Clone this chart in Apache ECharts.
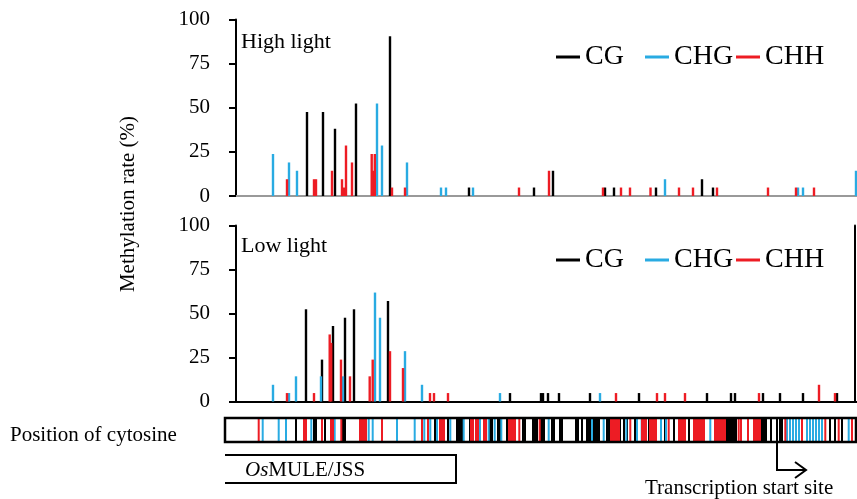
<!DOCTYPE html>
<html><head><meta charset="utf-8">
<script src="https://cdn.jsdelivr.net/npm/echarts@6/dist/echarts.min.js"></script>
<style>html,body{margin:0;padding:0;background:#fff}#c{width:857px;height:499px}</style>
</head><body><div id="c"></div>
<script>
// ---- data (position units along the sequence, methylation rate in %) ----
const contexts = ['CG', 'CHG', 'CHH'];
const yTicks = [0, 25, 50, 75, 100];

const highCG  = [[82,47.6],[98,47.6],[110,38.1],[131,52.4],[165,90.5],[244,4.8],[309,4.8],[328,14.3],[380,4.8],[389,4.8],[431,4.8],[477,9.5],[488,4.8]];
const highCHG = [[48,23.8],[64,19.0],[72,14.3],[152,52.4],[157,28.6],[182,19.0],[216,4.8],[221,4.8],[248,4.8],[440,9.5],[573,4.8],[578,4.8],[631,14.3]];
const highCHH = [[62,9.5],[89,9.5],[91,9.5],[107,14.3],[117,9.5],[119,4.8],[121,28.6],[127,19.0],[146.7,23.8],[148.3,14.3],[149.8,23.8],[167,4.8],[180,4.8],[294,4.8],[324,14.3],[378,4.8],[396,4.8],[405,4.8],[425.5,4.8],[454,4.8],[468,4.8],[492,4.8],[543,4.8],[571,4.8],[589,4.8]];

const lowCG  = [[81,52.4],[97,23.8],[108,42.9],[120,47.6],[129,52.4],[163,57.1],[285,4.8],[316,4.8],[318,4.8],[323,4.8],[334,4.8],[365,4.8],[414,4.8],[482,4.8],[506,4.8],[510,4.8],[538,4.8],[555,4.8],[578,4.8],[612,4.8]];
const lowCHG = [[48,9.5],[64,4.8],[71,14.3],[96,14.3],[118,14.3],[150,61.9],[155,47.6],[180,28.6],[197,9.5],[275,4.8],[375,4.8]];
const lowCHH = [[62,4.8],[89,4.8],[104.7,38.1],[106.2,33.3],[116,23.8],[125,14.3],[144.7,14.3],[147.7,23.8],[165,28.6],[178,19.0],[205,4.8],[209,4.8],[223,4.8],[391,4.8],[432,4.8],[440,4.8],[460,4.8],[534,4.8],[594,9.5],[610,4.8]];

// all cytosine positions in the region
const siteCG  = [71,89,91,100,118,120,210,223,232,234,236,238,245,253,265,267,273,275,282,298,300,308,310,312,315,317,319,327,329,335,337,351,353,357,362,364,366,368,370,372,374,382,384,395,399,402,410,419,421,424,440,449,464,501,503,505,507,509,511,537,539,541,546,552,555,557,605,610,617];
const siteCHG = [37.7,53.7,61,86.3,109.7,143.7,147.7,172,189.7,199.3,205.3,212,225.3,238.7,255,263.7,269.7,276.3,323.7,367,378.7,401.3,412,416.7,436,441,485.3,562,565,568,571,574,582,585,588,591,594,597,623.7];
const siteCHH = [33.7,79,81,97,106,108,116.3,135,137,139,141,157,197,203,215,217,219,246,248,251,253,259,261,284,286,288,290,294.3,314.7,386,388,390,392,394,405.3,417,419,421,425,427,429,431,443.7,454,456,458,460,469,471,473,475,477,479,490,492,494,496,498,500,513.7,516,523,529,531,533,535,560.3,577,600.3,613.7,627];

// ---- rendering ----
const colors = {CG: '#000000', CHG: '#29ABE2', CHH: '#ED1C24'};
const FONT = 'Liberation Serif, Times New Roman, serif';

function barItem(params, api) {
  const x = api.value(0), v = api.value(1);
  const b = api.coord([x, 0]), t = api.coord([x, v]);
  return {type: 'rect', shape: {x: b[0] - 1.2, y: t[1], width: 2.4, height: b[1] - t[1]},
          style: {fill: api.visual('color')}};
}
function siteItem(params, api) {
  const x = api.value(0);
  const b = api.coord([x, 0]), t = api.coord([x, 1]);
  return {type: 'rect', shape: {x: b[0] - 1, y: t[1], width: 2, height: b[1] - t[1]},
          style: {fill: api.visual('color')}};
}
function barSeries(name, data, idx) {
  return {type: 'custom', name, xAxisIndex: idx, yAxisIndex: idx, data,
          encode: {x: 0, y: 1}, itemStyle: {color: colors[name]}, renderItem: barItem};
}
function siteSeries(name, pos) {
  return {type: 'custom', name, xAxisIndex: 3, yAxisIndex: 3, data: pos.map(p => [p, 1]),
          encode: {x: 0, y: 1}, itemStyle: {color: colors[name]}, renderItem: siteItem, z: 1};
}
function valueY(grid) {
  return {type: 'value', gridIndex: grid, min: yTicks[0], max: yTicks[yTicks.length - 1], interval: 25,
    axisLine: {show: true, lineStyle: {color: '#000', width: 2}},
    axisTick: {show: true, length: 7, lineStyle: {color: '#000', width: 2}},
    axisLabel: {color: '#000', fontSize: 21, fontFamily: FONT, margin: 26},
    splitLine: {show: false}};
}
function posX(grid) {
  return {type: 'value', gridIndex: grid, min: 11, max: 632,
    axisLine: {show: true, onZero: false, lineStyle: {color: '#000', width: 2}},
    axisTick: {show: false}, axisLabel: {show: false}, splitLine: {show: false}};
}
const legendLefts = [556, 645, 736];
function legends(top) {
  return contexts.map((c, i) => ({left: legendLefts[i], top, padding: 0, icon: 'rect',
    itemWidth: 24, itemHeight: 3, data: [c], selectedMode: false,
    textStyle: {fontSize: 28, fontFamily: FONT, color: '#000', padding: [0, 0, 0, 0]}}));
}

const chart = echarts.init(document.getElementById('c'), null, {renderer: 'canvas'});
chart.setOption({
  animation: false,
  backgroundColor: '#fff',
  textStyle: {fontFamily: FONT},
  grid: [
    {left: 236, top: 19.5, width: 621, height: 176.5},
    {left: 236, top: 225.5, width: 621, height: 176},
    {left: 236, top: 19.5, width: 621, height: 176.5},
    {left: 225, top: 418.5, width: 631, height: 23}
  ],
  xAxis: [
    posX(0), posX(1),
    {type: 'value', gridIndex: 2, min: 11, max: 632, position: 'top',
     axisLine: {show: true, lineStyle: {color: '#cccccc', width: 1.5}},
     axisTick: {show: false}, axisLabel: {show: false}, splitLine: {show: false}},
    {type: 'value', gridIndex: 3, min: 0, max: 631, show: false}
  ],
  yAxis: [
    valueY(0), valueY(1),
    {type: 'value', gridIndex: 2, min: 0, max: 100, show: false},
    {type: 'value', gridIndex: 3, min: 0, max: 1, show: false},
    {type: 'value', gridIndex: 1, min: 0, max: 100, position: 'right', offset: -2,
     axisLine: {show: true, lineStyle: {color: '#000', width: 2}},
     axisTick: {show: false}, axisLabel: {show: false}, splitLine: {show: false}}
  ],
  legend: legends(43).concat(legends(246)),
  series: [
    barSeries('CG', highCG, 0), barSeries('CHG', highCHG, 0), barSeries('CHH', highCHH, 0),
    barSeries('CG', lowCG, 1), barSeries('CHG', lowCHG, 1), barSeries('CHH', lowCHH, 1),
    siteSeries('CG', siteCG), siteSeries('CHG', siteCHG), siteSeries('CHH', siteCHH)
  ],
  graphic: [
    {type: 'text', x: 128, y: 204, rotation: Math.PI / 2,
     style: {text: 'Methylation rate (%)', font: '21px ' + FONT, fill: '#000', textAlign: 'center', textVerticalAlign: 'middle'}},
    {type: 'text', x: 241, y: 42, style: {text: 'High light', font: '22px ' + FONT, fill: '#000', textVerticalAlign: 'middle'}},
    {type: 'text', x: 241, y: 246, style: {text: 'Low light', font: '22px ' + FONT, fill: '#000', textVerticalAlign: 'middle'}},
    {type: 'text', x: 10, y: 435, style: {text: 'Position of cytosine', font: '21px ' + FONT, fill: '#000', textVerticalAlign: 'middle'}},
    {type: 'rect', z: 10, shape: {x: 225, y: 418, width: 631, height: 24},
     style: {fill: 'none', stroke: '#000', lineWidth: 2.5}},
    {type: 'polyline', z: 10, shape: {points: [[225, 455], [456, 455], [456, 483], [225, 483]]},
     style: {fill: 'none', stroke: '#000', lineWidth: 2}},
    {type: 'text', x: 245, y: 470, style: {
      text: '{i|Os}{n|MULE/JSS}', textVerticalAlign: 'middle',
      rich: {i: {fontStyle: 'italic', fontSize: 21, fontFamily: FONT, fill: '#000'},
             n: {fontSize: 21, fontFamily: FONT, fill: '#000'}}}},
    {type: 'polyline', z: 10, shape: {points: [[777, 443], [777, 470], [806, 470]]},
     style: {fill: 'none', stroke: '#000', lineWidth: 2}},
    {type: 'polyline', z: 10, shape: {points: [[795, 462], [806, 470], [795, 478]]},
     style: {fill: 'none', stroke: '#000', lineWidth: 2}},
    {type: 'text', x: 645, y: 488, style: {text: 'Transcription start site', font: '21px ' + FONT, fill: '#000', textVerticalAlign: 'middle'}}
  ]
});
</script>
</body></html>
